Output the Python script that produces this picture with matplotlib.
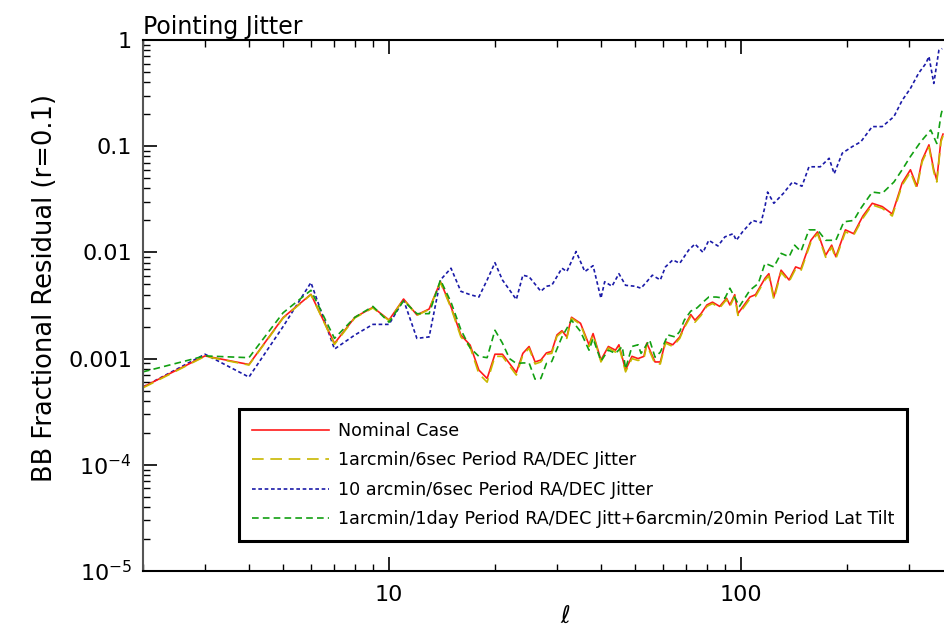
import matplotlib

matplotlib.use("Agg")
import matplotlib.pyplot as plt
from matplotlib.ticker import FixedLocator, FixedFormatter, NullFormatter

# multipole / residual values
nominal_ell = [2, 3, 4, 5, 6, 7, 8, 9, 10, 11, 12, 13, 14, 15, 16, 17, 18, 19, 20, 21,
               23, 24, 25, 26, 27, 28, 29, 30, 31, 32, 33, 35, 37, 38, 40, 42, 44, 45, 47, 49,
               51, 53, 54, 57, 59, 61, 64, 67, 69, 72, 74, 77, 80, 83, 87, 91, 93, 96, 98, 106,
               110, 117, 120, 124, 130, 137, 143, 148, 158, 165, 174, 181, 186, 198, 209, 222, 236, 252, 269, 287,
               303, 316, 327, 342, 353, 360, 370, 375]
nominal_res = [5.4e-4, 1.06e-3, 8.8e-4, 2.43e-3, 4.03e-3, 1.39e-3, 2.45e-3, 3.04e-3, 2.31e-3, 3.64e-3,
               2.58e-3, 2.93e-3, 5.3e-3, 3.08e-3, 1.67e-3, 1.34e-3, 7.8e-4, 6.5e-4, 1.1e-3, 1.1e-3,
               7.4e-4, 1.12e-3, 1.3e-3, 9.3e-4, 9.7e-4, 1.13e-3, 1.17e-3, 1.67e-3, 1.83e-3, 1.6e-3,
               2.45e-3, 2.15e-3, 1.35e-3, 1.72e-3, 9.7e-4, 1.3e-3, 1.2e-3, 1.35e-3, 7.8e-4, 1.05e-3,
               1.0e-3, 1.05e-3, 1.4e-3, 9.3e-4, 9.3e-4, 1.44e-3, 1.35e-3, 1.6e-3, 2.0e-3, 2.6e-3,
               2.3e-3, 2.65e-3, 3.2e-3, 3.4e-3, 3.1e-3, 3.7e-3, 3.2e-3, 4.0e-3, 2.65e-3, 3.8e-3,
               4.0e-3, 5.7e-3, 6.3e-3, 3.8e-3, 6.8e-3, 5.5e-3, 7.3e-3, 7.0e-3, 1.3e-2, 1.56e-2,
               9.4e-3, 1.17e-2, 9.1e-3, 1.63e-2, 1.5e-2, 2.2e-2, 2.9e-2, 2.7e-2, 2.3e-2, 4.5e-2,
               6.0e-2, 4.2e-2, 7.4e-2, 0.103, 0.06, 0.048, 0.115, 0.13]

jit1_ell = nominal_ell
jit1_res = [5.3e-4, 1.05e-3, 8.7e-4, 2.4e-3, 4.0e-3, 1.36e-3, 2.42e-3, 3.0e-3, 2.28e-3, 3.6e-3,
            2.55e-3, 2.9e-3, 5.2e-3, 3.0e-3, 1.6e-3, 1.28e-3, 7.2e-4, 6.0e-4, 1.05e-3, 1.05e-3,
            7.0e-4, 1.08e-3, 1.25e-3, 8.9e-4, 9.3e-4, 1.1e-3, 1.12e-3, 1.62e-3, 1.78e-3, 1.55e-3,
            2.4e-3, 2.1e-3, 1.3e-3, 1.68e-3, 9.3e-4, 1.26e-3, 1.15e-3, 1.3e-3, 7.5e-4, 1.0e-3,
            9.6e-4, 1.0e-3, 1.35e-3, 8.9e-4, 8.9e-4, 1.4e-3, 1.3e-3, 1.55e-3, 1.95e-3, 2.5e-3,
            2.2e-3, 2.55e-3, 3.1e-3, 3.3e-3, 3.0e-3, 3.6e-3, 3.1e-3, 3.85e-3, 2.55e-3, 3.65e-3,
            3.85e-3, 5.5e-3, 6.0e-3, 3.6e-3, 6.5e-3, 5.3e-3, 7.0e-3, 6.7e-3, 1.25e-2, 1.5e-2,
            9.0e-3, 1.12e-2, 8.7e-3, 1.56e-2, 1.45e-2, 2.1e-2, 2.8e-2, 2.6e-2, 2.2e-2, 4.3e-2,
            5.7e-2, 4.0e-2, 7.1e-2, 0.098, 0.057, 0.046, 0.11, 0.125]

jit10_ell = [2, 3, 4, 5, 6, 7, 8, 9, 10, 11, 12, 13, 14, 15, 16, 17, 18, 19, 20, 21,
             23, 24, 25, 27, 28, 29, 31, 32, 34, 36, 38, 40, 41, 43, 45, 47, 50, 52, 54, 56,
             59, 61, 64, 67, 71, 74, 78, 81, 86, 90, 95, 97, 101, 108, 114, 117, 119, 124, 132, 140,
             149, 156, 168, 178, 184, 194, 207, 219, 236, 252, 272, 287, 303, 320, 335, 342, 353, 365, 373]
jit10_res = [5.4e-4, 1.1e-3, 6.7e-4, 2.0e-3, 5.2e-3, 1.23e-3, 1.67e-3, 2.1e-3, 2.1e-3, 3.56e-3,
             1.55e-3, 1.6e-3, 5.5e-3, 7.1e-3, 4.3e-3, 4.0e-3, 3.8e-3, 5.5e-3, 8.0e-3, 5.5e-3,
             3.6e-3, 6.1e-3, 5.9e-3, 4.3e-3, 4.8e-3, 4.9e-3, 7.1e-3, 6.6e-3, 1.02e-2, 6.6e-3,
             7.5e-3, 3.7e-3, 5.3e-3, 4.8e-3, 6.3e-3, 4.9e-3, 4.8e-3, 4.6e-3, 5.3e-3, 6.1e-3,
             5.5e-3, 7.3e-3, 8.5e-3, 7.9e-3, 1.05e-2, 1.2e-2, 1.0e-2, 1.3e-2, 1.15e-2, 1.4e-2,
             1.5e-2, 1.3e-2, 1.56e-2, 2.0e-2, 1.9e-2, 2.7e-2, 3.7e-2, 2.9e-2, 3.6e-2, 4.6e-2,
             4.2e-2, 6.4e-2, 6.4e-2, 7.7e-2, 5.5e-2, 8.6e-2, 9.9e-2, 0.11, 0.153, 0.153,
             0.19, 0.27, 0.35, 0.49, 0.60, 0.70, 0.39, 0.80, 0.83]

tilt_ell = [2, 3, 4, 5, 6, 7, 8, 9, 10, 11, 12, 13, 14, 15, 16, 17, 18, 19, 20, 21,
            22, 23, 24, 25, 26, 27, 28, 29, 31, 33, 35, 37, 38, 40, 42, 44, 46, 47, 49, 51,
            52, 55, 57, 59, 62, 65, 67, 69, 72, 75, 78, 81, 85, 90, 93, 99, 106, 112, 117, 124,
            130, 137, 142, 148, 156, 165, 174, 186, 196, 209, 219, 236, 252, 272, 287, 303, 324, 346, 360, 370,
            375]
tilt_res = [7.5e-4, 1.06e-3, 1.02e-3, 2.7e-3, 4.4e-3, 1.55e-3, 2.45e-3, 3.1e-3, 2.2e-3, 3.5e-3,
            2.65e-3, 2.65e-3, 5.5e-3, 3.4e-3, 1.87e-3, 1.26e-3, 1.05e-3, 1.02e-3, 1.85e-3, 1.4e-3,
            1.0e-3, 9.0e-4, 9.1e-4, 9.1e-4, 6.4e-4, 6.5e-4, 9.0e-4, 9.4e-4, 1.6e-3, 2.3e-3,
            1.8e-3, 1.2e-3, 1.55e-3, 9.5e-4, 1.2e-3, 1.12e-3, 1.3e-3, 8.0e-4, 1.3e-3, 1.35e-3,
            1.12e-3, 1.5e-3, 1.03e-3, 1.15e-3, 1.67e-3, 1.6e-3, 1.8e-3, 2.3e-3, 2.8e-3, 3.0e-3,
            3.4e-3, 3.8e-3, 3.8e-3, 3.7e-3, 4.6e-3, 3.1e-3, 4.4e-3, 5.1e-3, 7.9e-3, 7.3e-3,
            9.8e-3, 9.1e-3, 1.17e-2, 1.02e-2, 1.63e-2, 1.63e-2, 1.3e-2, 1.3e-2, 1.94e-2, 2.0e-2,
            2.6e-2, 3.7e-2, 3.6e-2, 4.6e-2, 6.0e-2, 8.0e-2, 0.11, 0.142, 0.106, 0.197,
            0.235]

labels = [
    "Nominal Case",
    "1arcmin/6sec Period RA/DEC Jitter",
    "10 arcmin/6sec Period RA/DEC Jitter",
    "1arcmin/1day Period RA/DEC Jitt+6arcmin/20min Period Lat Tilt",
]

y_ticks = [1e-5, 1e-4, 1e-3, 1e-2, 1e-1, 1.0]
y_tick_labels = ["$10^{-5}$", "$10^{-4}$", "0.001", "0.01", "0.1", "1"]
x_ticks = [10, 100]
x_tick_labels = ["10", "100"]

plt.rcParams["font.family"] = ["DejaVu Sans"]
plt.rcParams["mathtext.default"] = "regular"

fig = plt.figure(figsize=(9.44, 6.32), dpi=100)
# the original frame runs past the right edge of the picture, so the axes do too
ax = fig.add_axes([143 / 944, 61 / 632, 844 / 944, 531 / 632])

ax.plot(jit10_ell, jit10_res, color="#1a1aa8", linewidth=1.2, dashes=(2.2, 1.6), label=labels[2])
ax.plot(nominal_ell, nominal_res, color="#ff1a1a", linewidth=1.2, label=labels[0])
ax.plot(jit1_ell, jit1_res, color="#c8b800", linewidth=1.2, dashes=(7, 4), label=labels[1])
ax.plot(tilt_ell, tilt_res, color="#12a012", linewidth=1.2, dashes=(4, 2.5), label=labels[3])

ax.set_xscale("log")
ax.set_yscale("log")
ax.set_xlim(2, 500)
ax.set_ylim(1e-5, 1)

ax.yaxis.set_major_locator(FixedLocator(y_ticks))
ax.yaxis.set_major_formatter(FixedFormatter(y_tick_labels))
ax.yaxis.set_minor_formatter(NullFormatter())
ax.xaxis.set_major_locator(FixedLocator(x_ticks))
ax.xaxis.set_major_formatter(FixedFormatter(x_tick_labels))
ax.xaxis.set_minor_formatter(NullFormatter())

ax.tick_params(which="both", direction="in", top=True, right=False, labelsize=16)
ax.tick_params(which="major", length=10, width=1.2)
ax.tick_params(which="minor", length=5, width=1.0)
ax.tick_params(axis="x", pad=10)
ax.tick_params(axis="y", pad=8)
for side in ("left", "bottom", "top"):
    ax.spines[side].set_linewidth(1.5)
ax.spines["left"].set_color("#555555")
ax.spines["right"].set_visible(False)

fig.text(45 / 944, 1 - 288 / 632, "BB Fractional Residual (r=0.1)", fontsize=18.5,
         rotation=90, ha="center", va="center")
fig.text(565 / 944, 1 - 616 / 632, r"$\ell$", fontsize=17, ha="center", va="center")
fig.text(143 / 944, 1 - 34 / 632, "Pointing Jitter", fontsize=17, ha="left", va="baseline")

handles, handle_labels = ax.get_legend_handles_labels()
order = [1, 2, 0, 3]
legend = ax.legend(
    [handles[i] for i in order],
    [handle_labels[i] for i in order],
    loc="lower left",
    bbox_to_anchor=(239 / 944, 1 - 541 / 632),
    bbox_transform=fig.transFigure,
    borderaxespad=0,
    fontsize=12.6,
    handlelength=4.4,
    handletextpad=0.56,
    labelspacing=0.66,
    borderpad=0.72,
    fancybox=False,
    framealpha=1,
    edgecolor="black",
)
legend.get_frame().set_linewidth(2.2)

fig.savefig("out.png", dpi=100)
plt.close(fig)
